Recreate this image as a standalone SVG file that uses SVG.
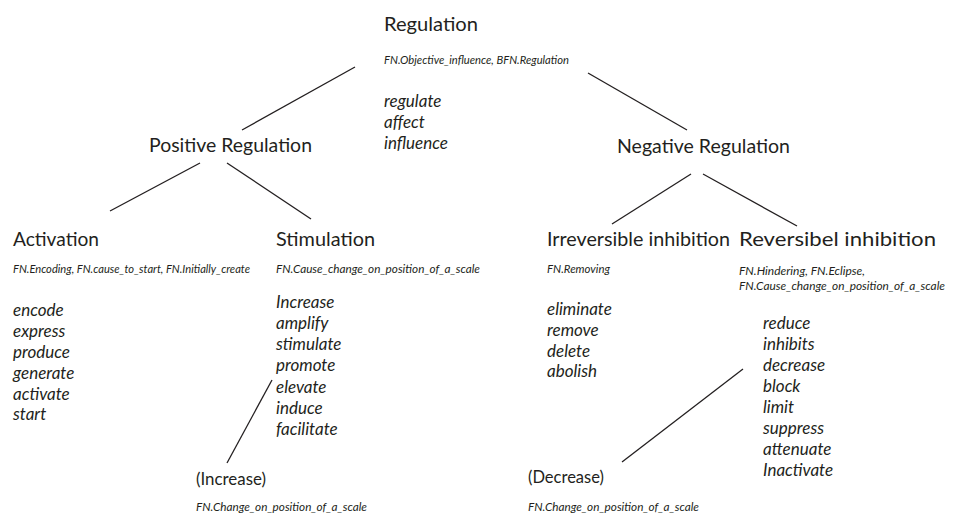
<svg xmlns="http://www.w3.org/2000/svg" width="966" height="515" viewBox="0 0 966 515">
<style>
text{font-family:Lato,"Open Sans","Liberation Sans",sans-serif;fill:#231f20}
.t{font-size:20px}
.p{font-size:17px}
.fn{font-size:11px;font-style:italic}
.w{font-size:17px;font-style:italic}
.c line{stroke:#231f20;stroke-width:1.3}
</style>
<rect width="966" height="515" fill="#fff"/>
<g class="c" id="connectors">
<line x1="355" y1="67" x2="242" y2="130"/>
<line x1="588" y1="73" x2="687" y2="130"/>
<line x1="200" y1="163" x2="110" y2="211"/>
<line x1="227" y1="163" x2="311" y2="219"/>
<line x1="691" y1="174" x2="612" y2="224"/>
<line x1="703" y1="174" x2="797" y2="226"/>
<line x1="272" y1="380" x2="227" y2="463"/>
<line x1="743" y1="369" x2="622" y2="462"/>
</g>
<g id="regulation">
<text class="t" x="384" y="31" textLength="94" lengthAdjust="spacingAndGlyphs">Regulation</text>
<text class="fn" x="384" y="64" textLength="185" lengthAdjust="spacingAndGlyphs">FN.Objective_influence, BFN.Regulation</text>
<text class="w" x="384" y="107">regulate</text>
<text class="w" x="384" y="128">affect</text>
<text class="w" x="384" y="149">influence</text>
</g>
<g id="positive">
<text class="t" x="149" y="152" textLength="163" lengthAdjust="spacingAndGlyphs">Positive Regulation</text>
</g>
<g id="negative">
<text class="t" x="617" y="153" textLength="173" lengthAdjust="spacingAndGlyphs">Negative Regulation</text>
</g>
<g id="activation">
<text class="t" x="13" y="246" textLength="86" lengthAdjust="spacingAndGlyphs">Activation</text>
<text class="fn" x="13" y="273" textLength="237" lengthAdjust="spacingAndGlyphs">FN.Encoding, FN.cause_to_start, FN.Initially_create</text>
<text class="w" x="13" y="316">encode</text>
<text class="w" x="13" y="337">express</text>
<text class="w" x="13" y="358">produce</text>
<text class="w" x="13" y="379">generate</text>
<text class="w" x="13" y="400">activate</text>
<text class="w" x="13" y="420">start</text>
</g>
<g id="stimulation">
<text class="t" x="276" y="246" textLength="99" lengthAdjust="spacingAndGlyphs">Stimulation</text>
<text class="fn" x="276" y="273" textLength="204" lengthAdjust="spacingAndGlyphs">FN.Cause_change_on_position_of_a_scale</text>
<text class="w" x="276" y="308">Increase</text>
<text class="w" x="276" y="329">amplify</text>
<text class="w" x="276" y="350">stimulate</text>
<text class="w" x="276" y="371">promote</text>
<text class="w" x="276" y="393">elevate</text>
<text class="w" x="276" y="414">induce</text>
<text class="w" x="276" y="435">facilitate</text>
</g>
<g id="increase">
<text class="p" x="196" y="485" textLength="70" lengthAdjust="spacingAndGlyphs">(Increase)</text>
<text class="fn" x="196" y="511" textLength="171" lengthAdjust="spacingAndGlyphs">FN.Change_on_position_of_a_scale</text>
</g>
<g id="irreversible">
<text class="t" x="547" y="246" textLength="183" lengthAdjust="spacingAndGlyphs">Irreversible inhibition</text>
<text class="fn" x="547" y="273" textLength="63" lengthAdjust="spacingAndGlyphs">FN.Removing</text>
<text class="w" x="547" y="315">eliminate</text>
<text class="w" x="547" y="336">remove</text>
<text class="w" x="547" y="357">delete</text>
<text class="w" x="547" y="377">abolish</text>
</g>
<g id="reversible">
<text class="t" x="739" y="246" textLength="197" lengthAdjust="spacingAndGlyphs">Reversibel inhibition</text>
<text class="fn" x="739" y="275" textLength="126" lengthAdjust="spacingAndGlyphs">FN.Hindering, FN.Eclipse,</text>
<text class="fn" x="739" y="290" textLength="206" lengthAdjust="spacingAndGlyphs">FN.Cause_change_on_position_of_a_scale</text>
<text class="w" x="763" y="329">reduce</text>
<text class="w" x="763" y="350">inhibits</text>
<text class="w" x="763" y="371">decrease</text>
<text class="w" x="763" y="392">block</text>
<text class="w" x="763" y="413">limit</text>
<text class="w" x="763" y="434">suppress</text>
<text class="w" x="763" y="455">attenuate</text>
<text class="w" x="763" y="476">Inactivate</text>
</g>
<g id="decrease">
<text class="p" x="528" y="483" textLength="76" lengthAdjust="spacingAndGlyphs">(Decrease)</text>
<text class="fn" x="528" y="511" textLength="171" lengthAdjust="spacingAndGlyphs">FN.Change_on_position_of_a_scale</text>
</g>
</svg>
